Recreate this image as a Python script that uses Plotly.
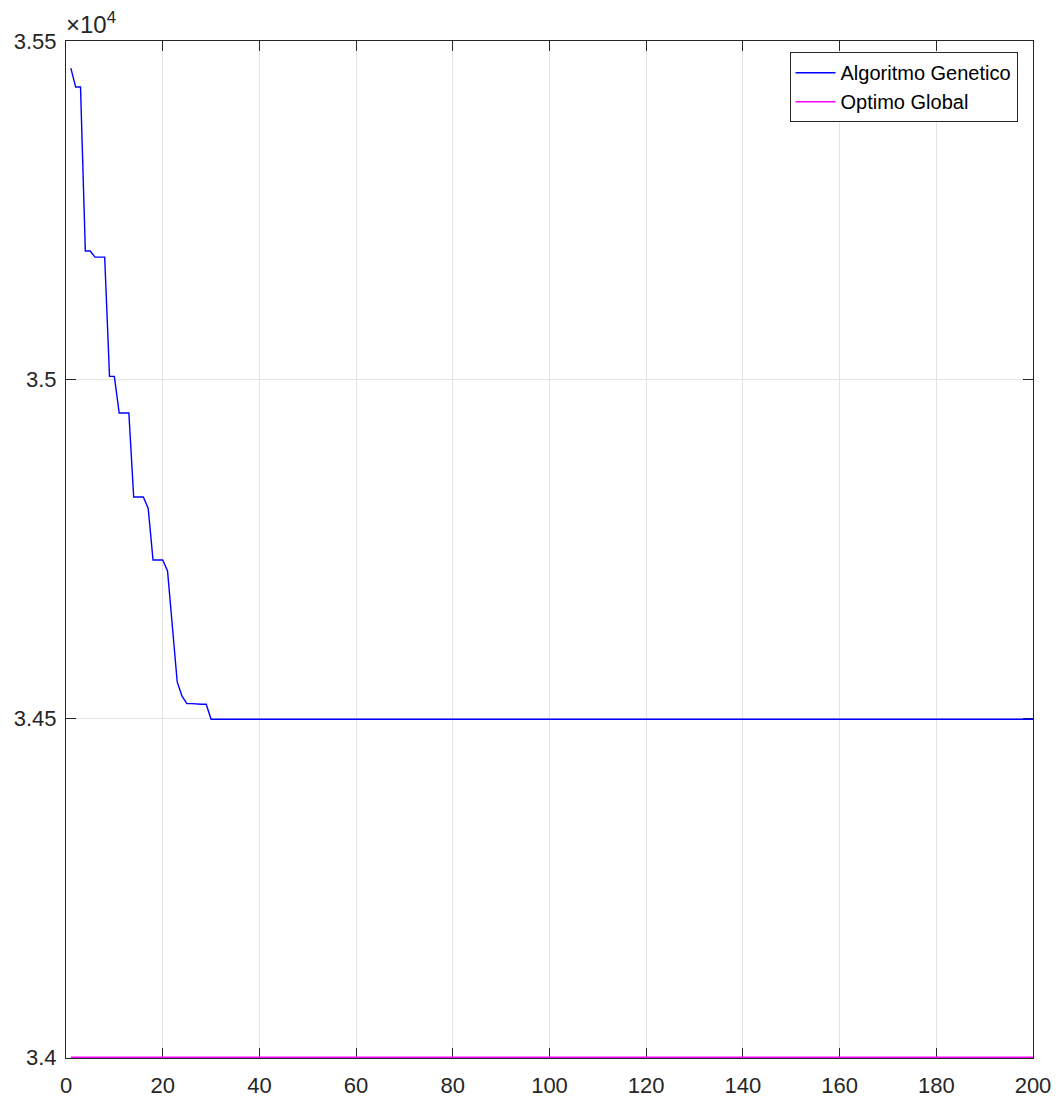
import plotly.graph_objects as go

# Generation index
generations = list(range(1, 201))

# Genetic algorithm best fitness per generation
ga_first = [35460, 35432, 35432, 35190, 35190, 35181, 35181, 35181, 35005, 35005,
            34951, 34951, 34951, 34827, 34827, 34827, 34810, 34734, 34734, 34734,
            34718, 34640, 34554, 34533, 34522, 34522, 34521, 34521, 34521, 34499]
ga_tail_value = 34499  # flat from generation 31 to 200
ga_values = ga_first + [ga_tail_value] * (len(generations) - len(ga_first))

# Global optimum (constant)
optimum_value = 34000
optimum_values = [optimum_value] * len(generations)

x_ticks = [0, 20, 40, 60, 80, 100, 120, 140, 160, 180, 200]
y_ticks = [34000, 34500, 35000, 35500]
y_tick_labels = ["3.4", "3.45", "3.5", "3.55"]

txt = "#262626"
font_family = "Liberation Sans, Arial, sans-serif"

fig = go.Figure()
fig.add_trace(go.Scatter(x=generations, y=ga_values, mode="lines",
                         name="Algoritmo Genetico",
                         line=dict(color="#0000ff", width=1.4)))
fig.add_trace(go.Scatter(x=generations, y=optimum_values, mode="lines",
                         name="Optimo Global",
                         line=dict(color="#ff00ff", width=1.4)))

axis_common = dict(
    showline=True, linecolor=txt, linewidth=1, mirror="ticks",
    ticks="inside", ticklen=10, tickcolor=txt, tickwidth=1,
    showgrid=True, gridcolor="#e3e3e3", gridwidth=1,
    zeroline=False, layer="below traces", automargin=False,
    tickfont=dict(family=font_family, size=22, color=txt),
)

fig.update_xaxes(range=[0, 200], tickvals=x_ticks, ticklabelstandoff=8, **axis_common)
fig.update_yaxes(range=[33999, 35500], tickvals=y_ticks, ticktext=y_tick_labels,
                 ticklabelstandoff=4, **axis_common)

fig.add_annotation(text="×10<sup>4</sup>", xref="paper", yref="paper",
                   x=0, y=1, xanchor="left", yanchor="bottom", showarrow=False,
                   xshift=-2, yshift=1,
                   font=dict(family=font_family, size=24, color=txt))

fig.update_layout(
    width=1059, height=1099,
    margin=dict(l=66, r=26, t=41, b=41, autoexpand=False),
    paper_bgcolor="white", plot_bgcolor="white",
    showlegend=True,
    legend=dict(x=0.984, y=0.989, xanchor="right", yanchor="top",
                bgcolor="white", bordercolor=txt, borderwidth=1,
                font=dict(family=font_family, size=20, color="#000000"),
                tracegroupgap=0, itemwidth=40),
)

fig.write_html("out.html")
